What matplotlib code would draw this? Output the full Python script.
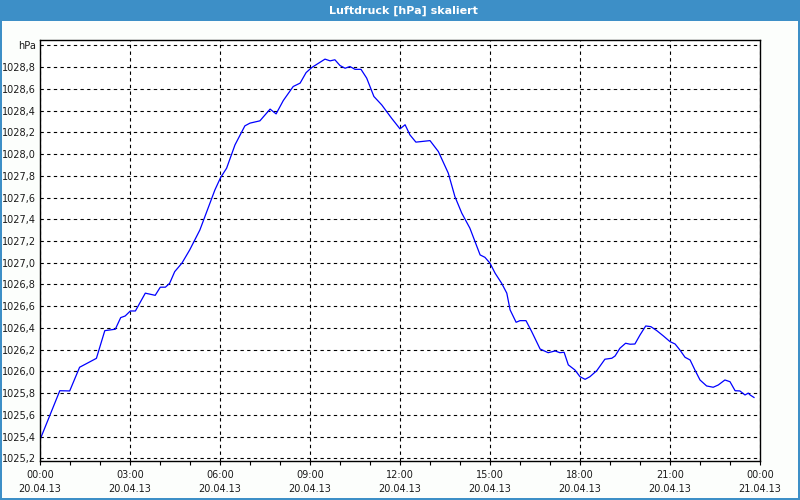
import matplotlib
matplotlib.use("Agg")
import matplotlib.pyplot as plt
from matplotlib.patches import Rectangle

# Data: hours since 20.04.13 00:00 and pressure in hPa
hours = [0.02, 0.66, 0.99, 1.32, 1.88, 2.16, 2.51, 2.69, 2.84, 3.01, 3.18, 3.51, 3.84,
         4.01, 4.18, 4.32, 4.49, 4.73, 4.99, 5.33, 5.83, 6.02, 6.22, 6.5, 6.83, 7.0,
         7.33, 7.67, 7.87, 8.11, 8.44, 8.67, 8.87, 9.06, 9.5, 9.67, 9.83, 10.0, 10.17,
         10.33, 10.5, 10.7, 10.89, 11.13, 11.39, 11.72, 12.0, 12.17, 12.33, 12.53, 13.0,
         13.28, 13.61, 13.83, 14.06, 14.33, 14.5, 14.67, 14.83, 15.0, 15.17, 15.39, 15.56,
         15.67, 15.87, 16.0, 16.2, 16.39, 16.67, 16.94, 17.17, 17.33, 17.47, 17.61, 17.83,
         18.0, 18.17, 18.33, 18.56, 18.83, 19.06, 19.17, 19.33, 19.52, 19.67, 19.83, 20.0,
         20.19, 20.36, 20.56, 20.78, 21.0, 21.17, 21.33, 21.5, 21.67, 21.83, 22.0, 22.22,
         22.44, 22.61, 22.83, 23.0, 23.17, 23.33, 23.5, 23.61, 23.67, 23.8]
pressure = [1025.384, 1025.822, 1025.82, 1026.038, 1026.12, 1026.375, 1026.388, 1026.495,
            1026.51, 1026.556, 1026.556, 1026.72, 1026.70, 1026.775, 1026.775, 1026.81,
            1026.918, 1026.996, 1027.118, 1027.302, 1027.67, 1027.784, 1027.87, 1028.085,
            1028.26, 1028.285, 1028.306, 1028.414, 1028.37, 1028.493, 1028.622, 1028.653,
            1028.75, 1028.797, 1028.874, 1028.858, 1028.868, 1028.815, 1028.79, 1028.806,
            1028.78, 1028.78, 1028.699, 1028.53, 1028.453, 1028.33, 1028.232, 1028.27,
            1028.177, 1028.11, 1028.124, 1028.023, 1027.824, 1027.609, 1027.456, 1027.318,
            1027.195, 1027.072, 1027.05, 1026.996, 1026.904, 1026.81, 1026.72, 1026.566,
            1026.452, 1026.467, 1026.467, 1026.366, 1026.206, 1026.172, 1026.188, 1026.172,
            1026.176, 1026.06, 1026.013, 1025.951, 1025.927, 1025.951, 1026.007, 1026.112,
            1026.121, 1026.142, 1026.213, 1026.259, 1026.25, 1026.252, 1026.335, 1026.418,
            1026.412, 1026.375, 1026.326, 1026.274, 1026.252, 1026.197, 1026.13, 1026.105,
            1026.013, 1025.921, 1025.866, 1025.854, 1025.875, 1025.921, 1025.905, 1025.822,
            1025.82, 1025.783, 1025.8, 1025.783, 1025.76]

x_tick_hours = [0, 3, 6, 9, 12, 15, 18, 21, 24]
x_tick_labels = ["00:00\n20.04.13", "03:00\n20.04.13", "06:00\n20.04.13", "09:00\n20.04.13",
                 "12:00\n20.04.13", "15:00\n20.04.13", "18:00\n20.04.13", "21:00\n20.04.13",
                 "00:00\n21.04.13"]
y_ticks = [1025.2 + 0.2 * i for i in range(20)]
y_tick_labels = [f"{v:.1f}".replace(".", ",") for v in y_ticks[:-1]] + ["hPa"]
title = "Luftdruck [hPa] skaliert"

W, H = 800, 500
fig = plt.figure(figsize=(W / 100, H / 100), dpi=100)
fig.patch.set_facecolor("#FCFEFC")

# title bar and frame
bar_col = "#3D8FC7"
fig.patches.append(Rectangle((0, 1 - 21 / H), 1, 21 / H, transform=fig.transFigure,
                             facecolor=bar_col, edgecolor="none", zorder=0))
fig.patches.append(Rectangle((0, 0), 2 / W, 1, transform=fig.transFigure,
                             facecolor=bar_col, edgecolor="none", zorder=0))
fig.patches.append(Rectangle((1 - 2 / W, 0), 2 / W, 1, transform=fig.transFigure,
                             facecolor=bar_col, edgecolor="none", zorder=0))
fig.patches.append(Rectangle((0, 0), 1, 2 / H, transform=fig.transFigure,
                             facecolor=bar_col, edgecolor="none", zorder=0))
fig.text(403 / W, 1 - 10.5 / H, title, color="white", fontsize=8, fontweight="bold",
         ha="center", va="center")

ax = fig.add_axes([40 / W, 1 - 460.7 / H, 720 / W, 420.7 / H])
ax.set_facecolor("white")
ax.plot(hours, pressure, color="#0000FF", lw=0.9)

ax.set_xlim(0, 24)
ax.set_ylim(1025.178, 1029.05)
ax.set_xticks(x_tick_hours)
ax.set_xticklabels(x_tick_labels, fontsize=7, color="#1a1a1a", linespacing=1.45)
ax.set_xticks(range(0, 25), minor=True)
ax.set_yticks(y_ticks)
ax.set_yticklabels(y_tick_labels, fontsize=7, color="#1a1a1a")
ax.tick_params(axis="x", which="both", length=3, width=0.8, pad=4, color="black")
ax.tick_params(axis="y", which="both", length=0, pad=3)

ax.grid(True, which="major", color="black", linestyle=(0, (3, 3)), linewidth=0.8)
for s in ax.spines.values():
    s.set_linewidth(1.0)
    s.set_color("black")

fig.savefig("out.png", dpi=100, facecolor=fig.get_facecolor())
